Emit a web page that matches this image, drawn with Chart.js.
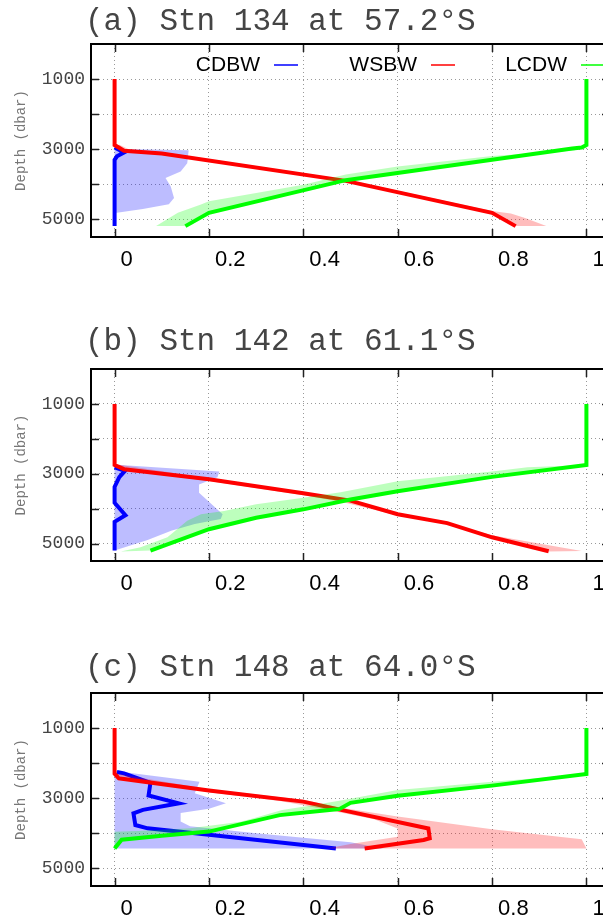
<!DOCTYPE html>
<html>
<head>
<meta charset="utf-8">
<script src="https://cdn.jsdelivr.net/npm/chart.js@4.4.1/dist/chart.umd.min.js"></script>
<style>
html, body { margin: 0; padding: 0; background: #fff; overflow: hidden; width: 603px; height: 919px; }
.panel { position: absolute; left: 0; }
</style>
</head>
<body>
<div class="panel" style="top:0px"><canvas id="pa" width="620" height="277" style="width:620px;height:277px"></canvas></div>
<div class="panel" style="top:320px"><canvas id="pb" width="620" height="281" style="width:620px;height:281px"></canvas></div>
<div class="panel" style="top:640px"><canvas id="pc" width="620" height="286" style="width:620px;height:286px"></canvas></div>
<script>
// axes
var xTicks = [0, 0.2, 0.4, 0.6, 0.8, 1];
var xTickLabels = ['0', '0.2', '0.4', '0.6', '0.8', '1'];
var yTicks = [1000, 2000, 3000, 4000, 5000];
var yTickLabels = ['1000', '', '3000', '', '5000'];
var names = ['CDBW', 'WSBW', 'LCDW'];
var titles = ['(a) Stn 134 at 57.2°S', '(b) Stn 142 at 61.1°S', '(c) Stn 148 at 64.0°S'];

// lines: [fraction, depth]
var a_cdbw = [[0,2950],[0.02,3090],[0.005,3200],[0,3300],[0,5190]];
var a_wsbw = [[0,1000],[0,2880],[0.02,3040],[0.1,3120],[0.49,3900],[0.8,4810],[0.85,5190]];
var a_lcdw = [[1,1000],[1,2880],[0.99,2950],[0.97,2975],[0.49,3880],[0.2,4810],[0.15,5190]];
// bands (two edges, top to bottom)
var a_cdbwBand1 = [[0,2990],[0,4810]];
var a_cdbwBand2 = [[0.02,2990],[0.157,3030],[0.154,3400],[0.14,3630],[0.108,3820],[0.119,4060],[0.126,4390],[0.115,4570],[0.06,4700],[0.005,4810]];
var a_wsbwBand1 = [[0,2900],[0.02,3070],[0.1,3150],[0.49,3930],[0.8,4840],[0.85,5190]];
var a_wsbwBand2 = [[0.01,2870],[0.03,3000],[0.1,3080],[0.49,3860],[0.8,4760],[0.84,4830],[0.87,4960],[0.915,5190]];
var a_lcdwBand1 = [[0.99,2960],[0.974,3038],[0.8,3189],[0.6,3490],[0.49,3720],[0.4,4009],[0.2,4481],[0.183,4575],[0.134,4811],[0.088,5190]];
var a_lcdwBand2 = [[1,2880],[0.99,2950],[0.97,2975],[0.49,3880],[0.2,4810],[0.15,5190]];

var b_cdbw = [[0,2820],[0.022,2920],[0.01,3100],[0,3380],[0,3830],[0.023,4190],[0,4380],[0,5200]];
var b_wsbw = [[0,1000],[0,2750],[0.02,2870],[0.2,3160],[0.4,3560],[0.5,3770],[0.6,4160],[0.705,4415],[0.8,4821],[0.92,5220]];
var b_lcdw = [[1,1000],[1,2750],[0.8,3090],[0.6,3500],[0.5,3740],[0.4,4020],[0.3,4260],[0.2,4590],[0.076,5200]];
var b_cdbwBand1 = [[0,2750],[0,5200]];
var b_cdbwBand2 = [[0.005,2745],[0.222,2934],[0.218,3100],[0.179,3311],[0.179,3547],[0.2,3800],[0.229,4160],[0.225,4300],[0.17,4440],[0.12,4632],[0.07,4900],[0,5200]];
var b_wsbwBand1 = [[0.01,2740],[0.2,3130],[0.4,3530],[0.48,3700],[0.6,4120],[0.7,4380],[0.8,4760],[0.99,5210]];
var b_wsbwBand2 = [[0,2770],[0.02,2890],[0.2,3210],[0.4,3620],[0.48,3800],[0.6,4200],[0.7,4440],[0.8,4840],[0.92,5230]];
var b_lcdwBand1 = [[1,2750],[0.875,2811],[0.8,2934],[0.6,3217],[0.479,3528],[0.4,3689],[0.3,3877],[0.232,4066],[0.183,4160],[0.154,4349],[0.133,4585],[0.112,4820],[0.055,5104],[0.013,5226]];
var b_lcdwBand2 = [[1,2750],[0.8,3090],[0.6,3500],[0.5,3740],[0.4,4020],[0.3,4260],[0.2,4590],[0.076,5200]];

var c_cdbw = [[0.005,2250],[0.02,2290],[0.076,2560],[0.072,2920],[0.136,3143],[0.06,3330],[0.04,3430],[0.044,3763],[0.07,3857],[0.2,4040],[0.469,4430]];
var c_wsbw = [[0,1000],[0,2300],[0.009,2430],[0.2,2780],[0.4,3095],[0.48,3330],[0.665,3860],[0.668,4140],[0.655,4190],[0.53,4430]];
var c_lcdw = [[1,1000],[1,2306],[0.8,2640],[0.6,2930],[0.5,3130],[0.476,3310],[0.45,3340],[0.35,3480],[0.2,3950],[0.1,4070],[0.015,4180],[0,4430]];
var c_cdbwBand1 = [[0,2230],[0,4430]];
var c_cdbwBand2 = [[0.005,2230],[0.18,2530],[0.17,2860],[0.236,3143],[0.2,3300],[0.14,3420],[0.14,3660],[0.16,3800],[0.3,4000],[0.5,4250],[0.57,4430]];
var c_wsbwBand1 = [[0.005,2300],[0.2,2740],[0.4,3040],[0.48,3270],[0.6,3520],[0.8,3880],[0.99,4170],[1,4430]];
var c_wsbwBand2 = [[0,2330],[0.2,2830],[0.35,3080],[0.4,3200],[0.45,3330],[0.55,3600],[0.6,3860],[0.6,4100],[0.5,4300],[0.45,4430]];
var c_lcdwBand1 = [[1,2300],[0.9,2420],[0.8,2526],[0.6,2763],[0.479,3060],[0.42,3200],[0.355,3334],[0.3,3550],[0.267,3668],[0.16,3857],[0.05,3930],[0,3954],[0,4430]];
var c_lcdwBand2 = [[1,2306],[0.8,2640],[0.6,2930],[0.5,3130],[0.476,3310],[0.45,3340],[0.35,3480],[0.2,3950],[0.1,4070],[0.015,4180],[0,4430]];

var lineColors = ['#0000ff', '#ff0000', '#00ff00'];
var bandColors = ['rgba(0,0,255,0.26)', 'rgba(255,0,0,0.26)', 'rgba(0,255,0,0.26)'];

function pts(arr) {
	return arr.map(function(p) { return { x: p[0], y: p[1] }; });
}

// 테두리, 안쪽 눈금, 제목, 범례
var panelDeco = {
	id: 'panelDeco',
	afterDraw: function(chart, args, opts) {
		var ctx = chart.ctx, a = chart.chartArea;
		var xs = chart.scales.x, ys = chart.scales.y;
		ctx.save();
		ctx.font = '31px "Liberation Mono", monospace';
		ctx.fillStyle = '#444';
		ctx.textAlign = 'left';
		ctx.textBaseline = 'middle';
		ctx.fillText(opts.title, 85, opts.titleY);

		ctx.strokeStyle = '#222';
		ctx.lineWidth = 1.5;
		ctx.beginPath();
		xTicks.forEach(function(v) {
			var px = Math.round(xs.getPixelForValue(v)) + 0.5;
			ctx.moveTo(px, a.bottom); ctx.lineTo(px, a.bottom - 8);
			ctx.moveTo(px, a.top); ctx.lineTo(px, a.top + 8);
		});
		yTicks.forEach(function(v) {
			var py = Math.round(ys.getPixelForValue(v)) + 0.5;
			ctx.moveTo(a.left, py); ctx.lineTo(a.left + 8, py);
			ctx.moveTo(a.right, py); ctx.lineTo(a.right - 8, py);
		});
		ctx.stroke();

		ctx.lineWidth = 2;
		ctx.strokeStyle = '#000';
		ctx.strokeRect(a.left, a.top, a.right - a.left, a.bottom - a.top);

		if (opts.legend) {
			ctx.font = '21px "Liberation Sans", Arial, sans-serif';
			ctx.textAlign = 'right';
			ctx.fillStyle = '#000';
			ctx.lineWidth = 1.5;
			opts.legend.forEach(function(lx, i) {
				ctx.fillText(names[i], lx, a.top + 21);
				ctx.strokeStyle = lineColors[i];
				ctx.beginPath();
				ctx.moveTo(lx + 14, a.top + 21);
				ctx.lineTo(lx + 38, a.top + 21);
				ctx.stroke();
			});
		}
		ctx.restore();
	}
};

function makePanel(id, title, titleY, padTop, lines, bands, legend) {
	var datasets = [];
	// 나중 것이 위로: LCDW > WSBW > CDBW, 각 띠 위에 선
	for (var k = 2; k >= 0; k--) {
		datasets.push({
			label: names[k],
			data: pts(lines[k]),
			borderColor: lineColors[k],
			borderWidth: 4,
			fill: false,
			pointRadius: 0
		});
		datasets.push({
			label: names[k] + ' range',
			data: pts(bands[k][0].concat(bands[k][1].slice().reverse())),
			borderColor: 'transparent',
			borderWidth: 0,
			backgroundColor: bandColors[k],
			fill: 'shape',
			pointRadius: 0
		});
	}

	return new Chart(document.getElementById(id).getContext('2d'), {
		type: 'line',
		data: { datasets: datasets },
		plugins: [panelDeco],
		options: {
			indexAxis: 'y',
			animation: false,
			responsive: false,
			events: [],
			layout: { padding: { top: padTop, left: 0, right: 10, bottom: 0 } },
			elements: { line: { tension: 0 } },
			scales: {
				x: {
					type: 'linear',
					position: 'bottom',
					min: -0.05,
					max: 1.05,
					afterBuildTicks: function(axis) {
						axis.ticks = xTicks.map(function(v) { return { value: v }; });
					},
					afterFit: function(s) { s.height = 40; },
					grid: { color: 'rgba(0,0,0,0.4)', lineWidth: 1, drawTicks: false },
					border: { display: false, dash: [1, 3] },
					ticks: {
						autoSkip: false,
						maxRotation: 0,
						align: 'start',
						labelOffset: 6,
						padding: 10,
						color: '#000',
						font: { family: "'Liberation Sans', Arial, sans-serif", size: 22 },
						callback: function(value) {
							var i = xTicks.indexOf(value);
							return i >= 0 ? xTickLabels[i] : '';
						}
					}
				},
				y: {
					type: 'linear',
					reverse: true,
					min: 0,
					max: 5500,
					afterBuildTicks: function(axis) {
						axis.ticks = yTicks.map(function(v) { return { value: v }; });
					},
					afterFit: function(s) { s.width = 91; },
					grid: { color: 'rgba(0,0,0,0.4)', lineWidth: 1, drawTicks: false },
					border: { display: false, dash: [1, 3] },
					title: {
						display: true,
						text: 'Depth (dbar)',
						color: '#777',
						font: { family: "'Liberation Mono', monospace", size: 14 },
						padding: { top: 13, bottom: 0 }
					},
					ticks: {
						padding: 6,
						color: '#444',
						font: { family: "'Liberation Mono', monospace", size: 18 },
						callback: function(value) {
							var i = yTicks.indexOf(value);
							return i >= 0 ? yTickLabels[i] : '';
						}
					}
				}
			},
			plugins: {
				legend: { display: false },
				tooltip: { enabled: false },
				panelDeco: { title: title, titleY: titleY, legend: legend }
			}
		}
	});
}

makePanel('pa', titles[0], 22, 44,
	[a_cdbw, a_wsbw, a_lcdw],
	[[a_cdbwBand1, a_cdbwBand2], [a_wsbwBand1, a_wsbwBand2], [a_lcdwBand1, a_lcdwBand2]],
	[260, 417, 567]);
makePanel('pb', titles[1], 22, 49,
	[b_cdbw, b_wsbw, b_lcdw],
	[[b_cdbwBand1, b_cdbwBand2], [b_wsbwBand1, b_wsbwBand2], [b_lcdwBand1, b_lcdwBand2]],
	null);
makePanel('pc', titles[2], 28, 53,
	[c_cdbw, c_wsbw, c_lcdw],
	[[c_cdbwBand1, c_cdbwBand2], [c_wsbwBand1, c_wsbwBand2], [c_lcdwBand1, c_lcdwBand2]],
	null);
</script>
</body>
</html>
